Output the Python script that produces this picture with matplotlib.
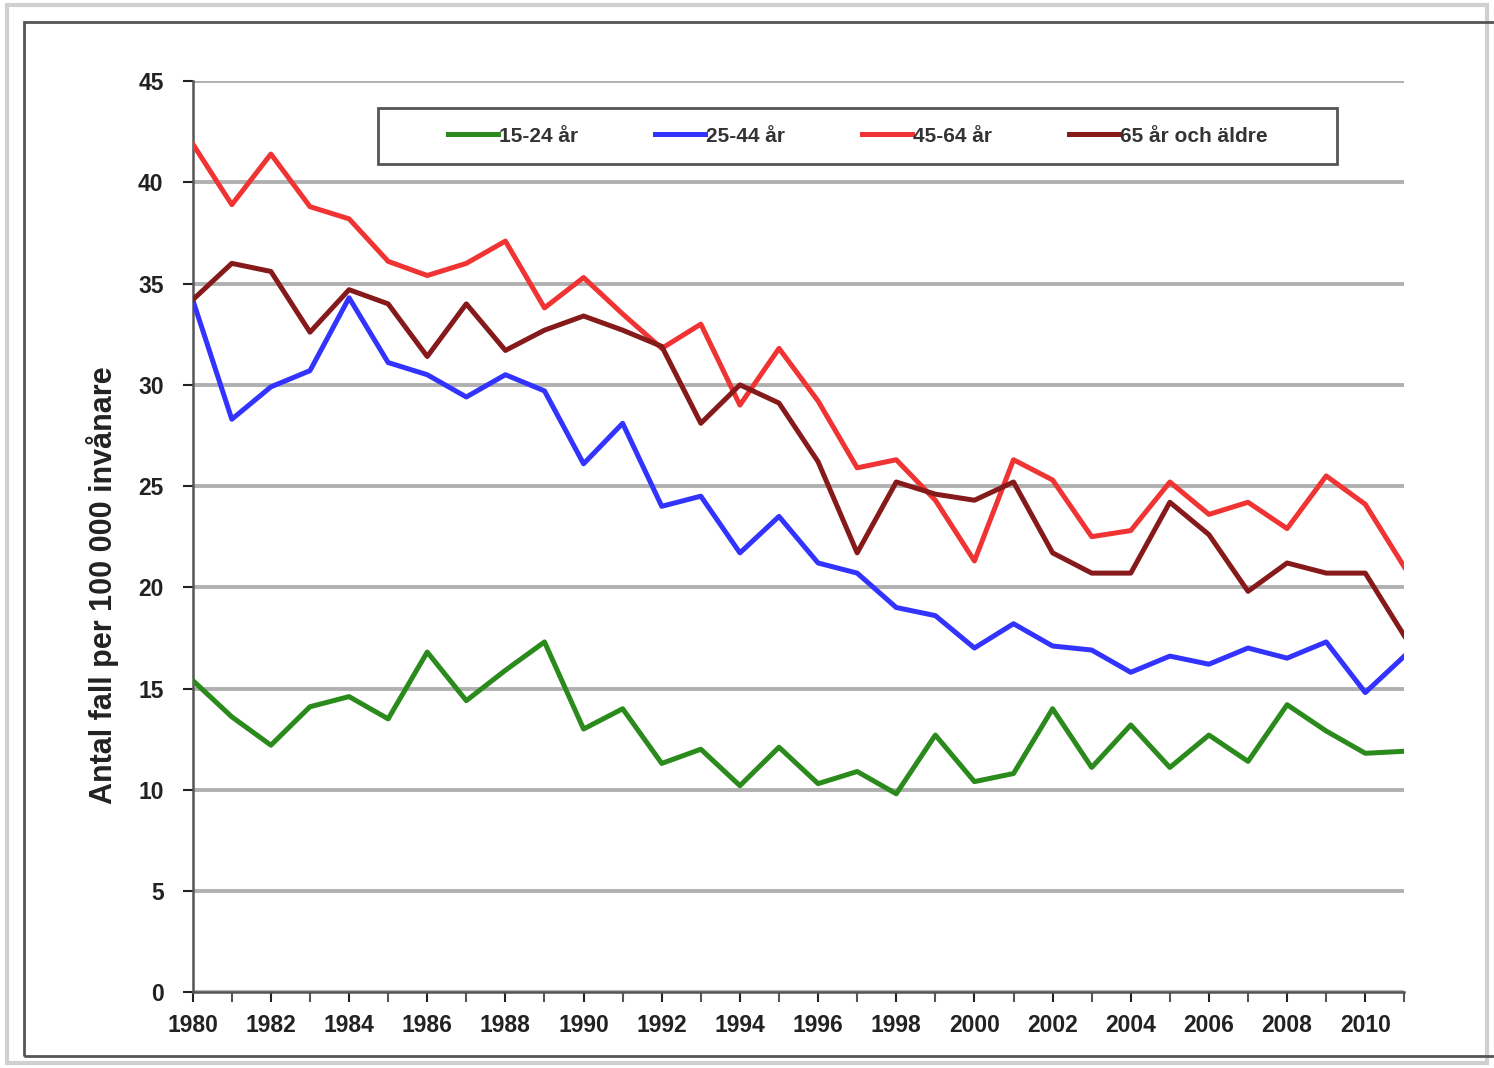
import numpy as np
import matplotlib
matplotlib.use('Agg')
import matplotlib.pyplot as plt
from matplotlib.patches import Rectangle

years = list(range(1980, 2012))

age_15_24 = [15.4, 13.6, 12.2, 14.1, 14.6, 13.5, 16.8, 14.4, 15.9, 17.3,
             13.0, 14.0, 11.3, 12.0, 10.2, 12.1, 10.3, 10.9, 9.8, 12.7,
             10.4, 10.8, 14.0, 11.1, 13.2, 11.1, 12.7, 11.4, 14.2, 12.9,
             11.8, 11.9]
age_25_44 = [34.2, 28.3, 29.9, 30.7, 34.3, 31.1, 30.5, 29.4, 30.5, 29.7,
             26.1, 28.1, 24.0, 24.5, 21.7, 23.5, 21.2, 20.7, 19.0, 18.6,
             17.0, 18.2, 17.1, 16.9, 15.8, 16.6, 16.2, 17.0, 16.5, 17.3,
             14.8, 16.6]
age_45_64 = [41.9, 38.9, 41.4, 38.8, 38.2, 36.1, 35.4, 36.0, 37.1, 33.8,
             35.3, 33.5, 31.8, 33.0, 29.0, 31.8, 29.2, 25.9, 26.3, 24.3,
             21.3, 26.3, 25.3, 22.5, 22.8, 25.2, 23.6, 24.2, 22.9, 25.5,
             24.1, 21.0]
age_65_plus = [34.2, 36.0, 35.6, 32.6, 34.7, 34.0, 31.4, 34.0, 31.7, 32.7,
               33.4, 32.7, 31.9, 28.1, 30.0, 29.1, 26.2, 21.7, 25.2, 24.6,
               24.3, 25.2, 21.7, 20.7, 20.7, 24.2, 22.6, 19.8, 21.2, 20.7,
               20.7, 17.6]

series_labels = ['15-24 år', '25-44 år', '45-64 år', '65 år och äldre']
series_colors = ['#2b8a1c', '#3333ff', '#f03333', '#861a1a']
y_ticks = [0, 5, 10, 15, 20, 25, 30, 35, 40, 45]


def main():
    plt.rcParams['font.family'] = ['Liberation Sans', 'DejaVu Sans']
    plt.rcParams['font.weight'] = 'bold'

    fig = plt.figure(figsize=(14.94, 10.68), dpi=100)

    # outer frames
    fig.patches.append(Rectangle((0.005, 0.005), 0.99, 0.99, transform=fig.transFigure,
                                 fill=False, edgecolor='#d0d0d0', linewidth=3))
    fig.patches.append(Rectangle((0.016, 0.011), 1.0, 0.968, transform=fig.transFigure,
                                 fill=False, edgecolor='#555555', linewidth=2))

    ax = fig.add_axes([0.129, 0.071, 0.811, 0.853])

    data = [age_15_24, age_25_44, age_45_64, age_65_plus]
    for vals, lab, col in zip(data, series_labels, series_colors):
        ax.plot(years, vals, color=col, linewidth=3.6, label=lab, zorder=3)

    ax.set_xlim(1980, 2011)
    ax.set_ylim(0, 45)
    ax.set_yticks(y_ticks)
    ax.set_xticks(years, minor=True)
    ax.set_xticks(years[::2])
    ax.grid(axis='y', color='#b0b0b0', linewidth=2.8, zorder=1)

    for s in ['top', 'right']:
        ax.spines[s].set_visible(False)
    for s in ['left', 'bottom']:
        ax.spines[s].set_color('#555555')
        ax.spines[s].set_linewidth(1.8)

    ax.tick_params(axis='both', labelsize=16.5, colors='#222222', width=1.5,
                   length=7, direction='out')
    ax.tick_params(axis='x', which='minor', length=7, width=1.5, color='#555555')
    ax.tick_params(axis='x', pad=9)
    ax.tick_params(axis='y', pad=14)

    ax.set_ylabel('Antal fall per 100 000 invånare', fontsize=22, fontweight='bold',
                  color='#222222')
    ax.yaxis.set_label_coords(-0.061, 0.447)

    # legend box drawn separately, entries centred in it
    ax.add_patch(Rectangle((0.153, 0.909), 0.791, 0.061, transform=ax.transAxes,
                           facecolor='white', edgecolor='#555555', linewidth=2,
                           zorder=4, clip_on=False))
    leg = ax.legend(loc='center', bbox_to_anchor=(0.549, 0.9395), ncol=4,
                    fontsize=15, frameon=False, handlelength=2.4,
                    handletextpad=0.05, columnspacing=3.7, borderaxespad=0)
    leg.set_zorder(5)
    for t in leg.get_texts():
        t.set_color('#333333')

    fig.savefig('out.png', dpi=100)
    plt.close()


if __name__ == "__main__":
    main()
